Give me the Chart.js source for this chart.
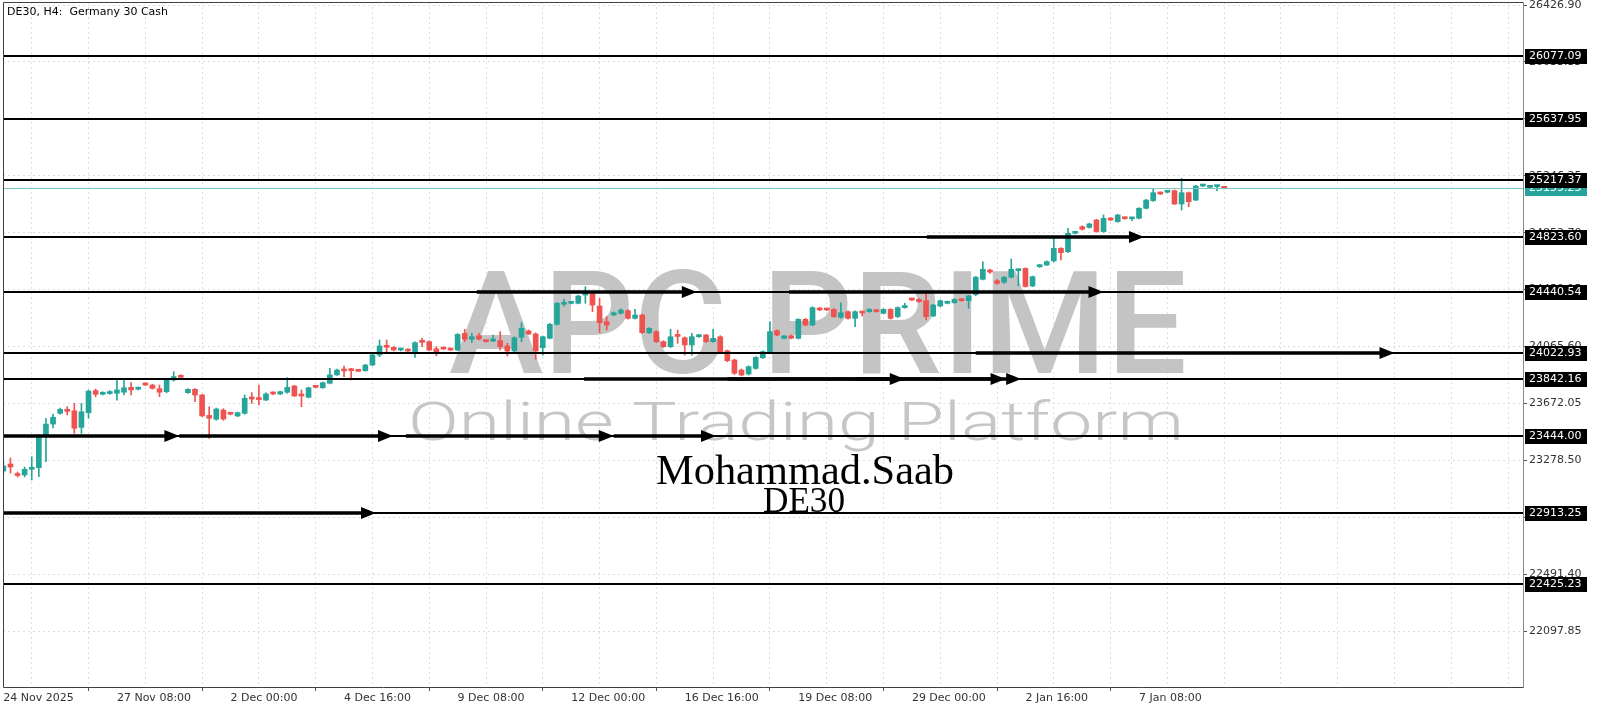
<!DOCTYPE html>
<html>
<head>
<meta charset="utf-8">
<script src="https://cdn.jsdelivr.net/npm/chart.js@4.4.1/dist/chart.umd.min.js"></script>
<style>
  html, body { margin: 0; padding: 0; background: #fff; }
  #wrap { width: 1600px; height: 711px; }
</style>
</head>
<body>
<div id="wrap"><canvas id="chart" width="1600" height="711"></canvas></div>
<script>
// DE30 H4 candles (bar index 0 = first bar on the left)
const openP = [
  23204, 23253, 23184, 23177, 23216, 23227, 23442, 23529, 23603, 23631,
  23621, 23506, 23607, 23760, 23735, 23740, 23742, 23749, 23783, 23770,
  23811, 23799, 23773, 23753, 23834, 23857, 23746, 23769, 23730, 23589,
  23562, 23626, 23603, 23585, 23603, 23707, 23702, 23695, 23749, 23737,
  23749, 23792, 23730, 23714, 23792, 23780, 23811, 23869, 23908, 23903,
  23898, 23898, 23937, 24007, 24069, 24060, 24041, 24046, 24030, 24106,
  24099, 24050, 24053, 24050, 24041, 24156, 24115, 24140, 24103, 24103,
  24106, 24069, 24034, 24129, 24173, 24152, 24057, 24122, 24219, 24357,
  24364, 24364, 24421, 24428, 24345, 24237, 24283, 24295, 24313, 24260,
  24283, 24161, 24168, 24099, 24064, 24138, 24126, 24076, 24133, 24145,
  24099, 24133, 24036, 23972, 23903, 23875, 23914, 23988, 24030, 24175,
  24122, 24140, 24122, 24253, 24214, 24329, 24322, 24322, 24267, 24306,
  24260, 24302, 24306, 24318, 24295, 24322, 24272, 24334, 24394, 24391,
  24382, 24276, 24345, 24364, 24368, 24391, 24382, 24425, 24530, 24594,
  24520, 24510, 24544, 24590, 24605, 24484, 24617, 24629, 24657, 24744,
  24721, 24848, 24894, 24889, 24940, 24860, 24952, 24929, 24956, 24948,
  24952, 25021, 25074, 25129, 25132, 25143, 25051, 25129, 25078, 25175,
  25166, 25171, 25171
];
const highP = [
  23267, 23294, 23197, 23232, 23303, 23453, 23569, 23598, 23640, 23649,
  23672, 23672, 23765, 23771, 23752, 23760, 23834, 23845, 23815, 23785,
  23815, 23805, 23799, 23840, 23891, 23870, 23775, 23775, 23735, 23649,
  23640, 23635, 23607, 23612, 23730, 23746, 23799, 23745, 23752, 23757,
  23850, 23797, 23765, 23785, 23797, 23820, 23915, 23910, 23930, 23915,
  23900, 23942, 24012, 24110, 24110, 24065, 24055, 24050, 24098, 24122,
  24105, 24064, 24058, 24055, 24155, 24184, 24156, 24156, 24108, 24145,
  24168, 24087, 24132, 24230, 24180, 24160, 24138, 24225, 24370, 24394,
  24376, 24420, 24479, 24440, 24398, 24272, 24305, 24325, 24320, 24322,
  24290, 24196, 24175, 24105, 24184, 24179, 24132, 24156, 24150, 24150,
  24184, 24140, 24040, 23978, 23910, 23932, 23996, 24036, 24237, 24180,
  24142, 24145, 24258, 24260, 24340, 24336, 24327, 24327, 24368, 24312,
  24312, 24306, 24327, 24322, 24327, 24327, 24340, 24364, 24398, 24396,
  24445, 24357, 24387, 24380, 24396, 24396, 24420, 24550, 24650, 24600,
  24530, 24550, 24670, 24598, 24610, 24553, 24634, 24658, 24813, 24750,
  24883, 24858, 24900, 24918, 24946, 24975, 24957, 24980, 24960, 24957,
  25026, 25083, 25159, 25134, 25140, 25148, 25228, 25134, 25180, 25187,
  25170, 25175, 25174
];
const lowP = [
  23184, 23190, 23163, 23163, 23142, 23165, 23269, 23502, 23598, 23592,
  23465, 23465, 23569, 23718, 23730, 23735, 23695, 23730, 23730, 23765,
  23795, 23770, 23718, 23745, 23826, 23840, 23740, 23684, 23580, 23430,
  23555, 23555, 23592, 23580, 23597, 23672, 23661, 23690, 23733, 23733,
  23742, 23720, 23649, 23710, 23778, 23776, 23806, 23865, 23857, 23834,
  23890, 23894, 23932, 23995, 24029, 24035, 24035, 24025, 23990, 24064,
  24035, 24000, 24044, 24037, 24037, 24099, 24092, 24110, 24095, 24099,
  24041, 24000, 24028, 24099, 24148, 23977, 24006, 24117, 24212, 24345,
  24360, 24360, 24364, 24306, 24161, 24179, 24278, 24290, 24255, 24255,
  24155, 24155, 24093, 24058, 24058, 24087, 24006, 24006, 24128, 24093,
  24093, 24025, 23960, 23872, 23862, 23868, 23908, 23982, 24025, 24140,
  24118, 24118, 24117, 24208, 24208, 24313, 24313, 24266, 24262, 24255,
  24202, 24276, 24302, 24302, 24290, 24255, 24266, 24330, 24383, 24371,
  24249, 24272, 24341, 24360, 24364, 24378, 24329, 24416, 24525, 24570,
  24497, 24502, 24540, 24485, 24476, 24479, 24612, 24625, 24650, 24664,
  24715, 24843, 24870, 24884, 24855, 24855, 24935, 24924, 24945, 24935,
  24947, 25016, 25069, 25115, 25128, 25046, 25009, 25032, 25073, 25170,
  25162, 25143, 25155
];
const closeP = [
  23239, 23232, 23173, 23216, 23230, 23442, 23529, 23576, 23631, 23617,
  23500, 23614, 23757, 23735, 23746, 23753, 23765, 23780, 23765, 23780,
  23799, 23776, 23749, 23834, 23857, 23852, 23769, 23730, 23585, 23569,
  23633, 23564, 23597, 23608, 23707, 23702, 23698, 23737, 23737, 23753,
  23783, 23723, 23723, 23780, 23783, 23815, 23869, 23903, 23896, 23898,
  23894, 23937, 24007, 24069, 24060, 24041, 24046, 24034, 24092, 24094,
  24041, 24018, 24048, 24041, 24149, 24115, 24133, 24117, 24099, 24110,
  24064, 24034, 24126, 24191, 24152, 24034, 24133, 24219, 24364, 24371,
  24371, 24414, 24428, 24352, 24230, 24214, 24299, 24318, 24260, 24283,
  24161, 24191, 24099, 24064, 24133, 24135, 24076, 24133, 24145, 24099,
  24122, 24030, 23967, 23880, 23868, 23926, 23990, 24030, 24168, 24145,
  24138, 24122, 24253, 24214, 24334, 24318, 24318, 24272, 24299, 24260,
  24306, 24297, 24322, 24306, 24322, 24260, 24334, 24336, 24387, 24375,
  24272, 24352, 24382, 24375, 24391, 24382, 24415, 24545, 24599, 24580,
  24502, 24544, 24599, 24594, 24480, 24548, 24629, 24652, 24744, 24714,
  24848, 24852, 24876, 24913, 24860, 24952, 24940, 24975, 24949, 24952,
  25021, 25078, 25129, 25120, 25136, 25051, 25129, 25067, 25175, 25182,
  25168, 25173, 25159
];

// time axis labels, one every 16 bars
const timeLabelIdx = [0, 16, 32, 48, 64, 80, 96, 112, 128, 144, 160];
const timeLabels = ['24 Nov 2025', '27 Nov 08:00', '2 Dec 00:00', '4 Dec 16:00', '9 Dec 08:00',
  '12 Dec 00:00', '16 Dec 16:00', '19 Dec 08:00', '29 Dec 00:00', '2 Jan 16:00', '7 Jan 08:00'];

// price scale
const priceTicks = [22097.85, 22491.40, 22884.95, 23278.50, 23672.05, 24065.60,
  24459.15, 24852.70, 25246.25, 25639.80, 26033.35, 26426.90];

// horizontal levels drawn on the chart
const levels = [26077.09, 25637.95, 25217.37, 24823.60, 24440.54, 24022.93, 23842.16, 23444.00, 22913.25, 22425.23];
const lastPrice = 25159.25;

// arrows: level, start bar, end bar (arrow tip)
const arrowLevel = [23444.00, 23444.00, 23444.00, 23444.00, 22913.25, 23842.16, 23842.16, 23842.16, 24022.93, 24440.54, 24440.54, 24823.60];
const arrowFrom  = [-1, 24.8, 56.7, 86, -1, 81.8, 102, 120, 137, 66.7, 110.7, 130.1];
const arrowTo    = [24.8, 54.9, 86, 100.4, 52.5, 127, 141.2, 143.4, 196, 97.7, 155, 160.7];

const UP = '#26a69a', DOWN = '#ef5350';
const barIdx = openP.map((_, i) => i);
const candleColors = barIdx.map(i => closeP[i] >= openP[i] ? UP : DOWN);

const gridIdx = [];
for (let v = 0; v <= 208; v += 8) gridIdx.push(v);

function fitText(ctx, text, font, color, cx, baseY, width) {
  ctx.font = font;
  const w = ctx.measureText(text).width;
  ctx.save();
  ctx.translate(cx, baseY);
  ctx.scale(width / w, 1);
  ctx.fillStyle = color;
  ctx.textAlign = 'center';
  ctx.textBaseline = 'alphabetic';
  ctx.fillText(text, 0, 0);
  ctx.restore();
}

function priceLabel(ctx, y, text, bg) {
  ctx.fillStyle = bg;
  ctx.fillRect(1525, Math.round(y) - 7, 62, 15);
  ctx.fillStyle = '#fff';
  ctx.font = '11px "DejaVu Sans"';
  ctx.textAlign = 'left';
  ctx.textBaseline = 'middle';
  ctx.fillText(text, 1529, Math.round(y) + 0.5);
}

const overlay = {
  id: 'overlay',
  beforeDatasetsDraw(chart) {
    const { ctx, chartArea: a } = chart;
    ctx.save();
    ctx.beginPath();
    ctx.rect(a.left, a.top, a.width, a.height);
    ctx.clip();
    fitText(ctx, 'APC PRIME', '500 142px Roboto', '#c4c4c4', 818, 373, 738);
    fitText(ctx, 'Online Trading Platform', '300 53px Roboto', '#c6c6c6', 796, 440, 776);
    ctx.restore();
  },
  afterDatasetsDraw(chart) {
    const { ctx, chartArea: a, scales: { x, y } } = chart;
    ctx.save();
    ctx.beginPath();
    ctx.rect(a.left, a.top, a.width, a.height);
    ctx.clip();

    // current price line
    const yp = Math.round(y.getPixelForValue(lastPrice)) + 0.5;
    ctx.strokeStyle = '#7ec8c0';
    ctx.lineWidth = 1;
    ctx.beginPath();
    ctx.moveTo(a.left, yp);
    ctx.lineTo(a.right, yp);
    ctx.stroke();

    // levels
    ctx.strokeStyle = '#000';
    ctx.lineWidth = 2;
    levels.forEach(v => {
      const py = Math.round(y.getPixelForValue(v));
      ctx.beginPath();
      ctx.moveTo(a.left, py);
      ctx.lineTo(a.right, py);
      ctx.stroke();
    });

    // arrows
    ctx.fillStyle = '#000';
    ctx.lineWidth = 3.5;
    arrowLevel.forEach((lv, k) => {
      const py = Math.round(y.getPixelForValue(lv));
      const x1 = x.getPixelForValue(arrowFrom[k]);
      const x2 = x.getPixelForValue(arrowTo[k]);
      ctx.beginPath();
      ctx.moveTo(x1, py);
      ctx.lineTo(x2 - 12, py);
      ctx.stroke();
      ctx.beginPath();
      ctx.moveTo(x2, py);
      ctx.lineTo(x2 - 15, py - 6);
      ctx.lineTo(x2 - 15, py + 6);
      ctx.closePath();
      ctx.fill();
    });

    fitText(ctx, 'Mohammad.Saab', '42px "Liberation Serif"', '#000', 805, 484, 298);
    fitText(ctx, 'DE30', '36px "Liberation Serif"', '#000', 804, 512, 82);
    ctx.restore();
  },
  afterDraw(chart) {
    const { ctx, chartArea: a, scales: { y } } = chart;
    ctx.save();
    // frame
    ctx.lineWidth = 1;
    ctx.strokeStyle = '#404040';
    ctx.beginPath();
    ctx.moveTo(a.right, a.top + 0.5);
    ctx.lineTo(a.left + 0.5, a.top + 0.5);
    ctx.lineTo(a.left + 0.5, a.bottom + 0.5);
    ctx.lineTo(a.right, a.bottom + 0.5);
    ctx.stroke();
    ctx.strokeStyle = '#8a8a8a';
    ctx.beginPath();
    ctx.moveTo(a.right + 0.5, a.top);
    ctx.lineTo(a.right + 0.5, a.bottom + 1);
    ctx.stroke();

    // right side price labels
    priceLabel(ctx, y.getPixelForValue(lastPrice), lastPrice.toFixed(2), '#26a69a');
    levels.forEach(v => priceLabel(ctx, y.getPixelForValue(v), v.toFixed(2), '#000'));

    // title
    ctx.fillStyle = '#000';
    ctx.font = '11px "DejaVu Sans"';
    ctx.textAlign = 'left';
    ctx.textBaseline = 'middle';
    ctx.fillText('DE30, H4:  Germany 30 Cash', 7, 12);
    ctx.restore();
  }
};

new Chart(document.getElementById('chart'), {
  type: 'bar',
  data: {
    datasets: [
      {
        label: 'wick',
        data: barIdx.map(i => ({ x: i, y: [lowP[i], highP[i]] })),
        backgroundColor: candleColors,
        barThickness: 1,
        minBarLength: 1,
        grouped: false,
        order: 2
      },
      {
        label: 'body',
        data: barIdx.map(i => ({ x: i, y: [openP[i], closeP[i]] })),
        backgroundColor: candleColors,
        barThickness: 5,
        minBarLength: 2,
        grouped: false,
        order: 1
      }
    ]
  },
  options: {
    responsive: false,
    animation: false,
    devicePixelRatio: 1,
    layout: { padding: { left: 3, top: 2, right: 0, bottom: 0 } },
    plugins: { legend: { display: false }, tooltip: { enabled: false } },
    scales: {
      x: {
        type: 'linear',
        min: -0.05,
        max: 214.1,
        offset: false,
        afterBuildTicks: s => { s.ticks = gridIdx.map(v => ({ value: v })); },
        afterFit: s => { s.height = 24; s.paddingLeft = 0; s.paddingRight = 0; },
        ticks: {
          autoSkip: false,
          maxRotation: 0,
          align: 'start',
          padding: 1,
          color: '#333',
          font: { family: 'DejaVu Sans', size: 11 },
          callback: v => {
            const k = timeLabelIdx.indexOf(v);
            return k >= 0 ? timeLabels[k] : '';
          }
        },
        grid: {
          color: '#dedede',
          tickLength: 4,
          tickColor: c => (c.tick && timeLabelIdx.includes(c.tick.value)) ? '#555' : 'rgba(0,0,0,0)'
        },
        border: { display: false, dash: [2, 3] }
      },
      y: {
        type: 'linear',
        position: 'right',
        min: 21710.6,
        max: 26447.7,
        afterBuildTicks: s => { s.ticks = priceTicks.map(v => ({ value: v })); },
        afterFit: s => { s.width = 77; s.paddingTop = 0; s.paddingBottom = 0; },
        ticks: {
          autoSkip: false,
          padding: 2,
          color: '#333',
          font: { family: 'DejaVu Sans', size: 11 },
          callback: v => v.toFixed(2)
        },
        grid: { color: '#dedede', tickLength: 4, tickColor: '#555' },
        border: { display: false, dash: [2, 3] }
      }
    }
  },
  plugins: [overlay]
});
</script>
</body>
</html>
